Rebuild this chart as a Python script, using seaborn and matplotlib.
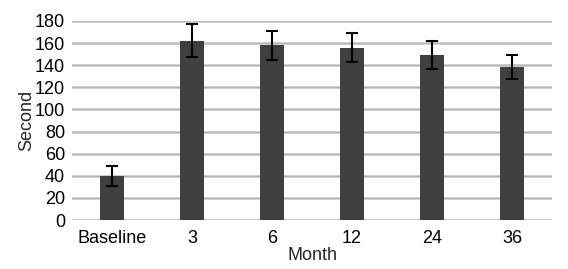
import matplotlib
matplotlib.use("Agg")
import matplotlib.pyplot as plt
import seaborn as sns
import pandas as pd

months = ["Baseline", "3", "6", "12", "24", "36"]
seconds = [40, 162, 158, 156, 149, 138.5]
errors = [9, 15, 13, 13.5, 12.5, 11]

sns.set_theme(style="white")
plt.rcParams['font.family'] = ['Liberation Sans', 'DejaVu Sans']

df = pd.DataFrame({"Month": months, "Second": seconds})

fig = plt.figure(figsize=(5.68, 2.69), dpi=100)
ax = fig.add_axes([0.1268, 0.182, 0.845, 0.740])
sns.barplot(data=df, x="Month", y="Second", color="#404040", width=0.31,
            saturation=1, linewidth=0, ax=ax, zorder=3)
ax.errorbar(range(len(months)), seconds, yerr=errors, fmt="none",
            ecolor="black", elinewidth=1.5, capsize=4, capthick=1.5, zorder=4)

ax.set_ylim(0, 180)
ax.set_xlim(-0.5, len(months) - 0.5)
ax.set_yticks(range(0, 181, 20))
ax.yaxis.grid(True, color="#bcbcbc", linewidth=1.8)
ax.set_axisbelow(True)
for s in ax.spines.values():
    s.set_visible(False)
ax.tick_params(axis="both", length=0, labelsize=13, colors="black")
ax.tick_params(axis="x", pad=7)
ax.tick_params(axis="y", pad=5)
ax.set_xlabel("Month", fontsize=13, labelpad=0)
ax.set_ylabel("Second", fontsize=13, labelpad=0)

fig.savefig("out.png", dpi=100)
